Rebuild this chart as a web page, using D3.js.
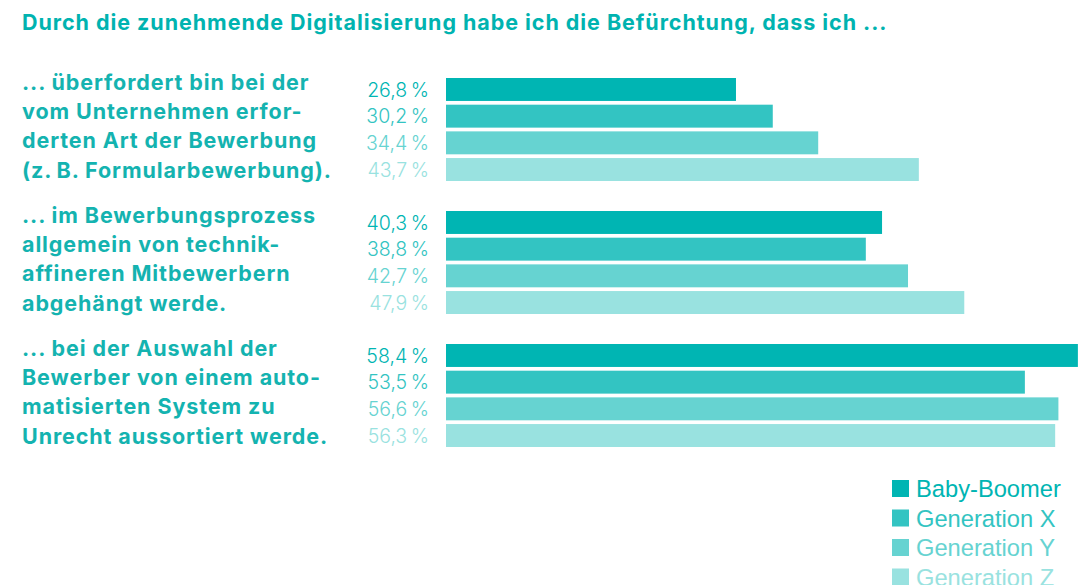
<!DOCTYPE html>
<html>
<head>
<meta charset="utf-8">
<style>
    body { margin: 0; background: white; font-family: "Liberation Sans", Arial, sans-serif; }
    svg { display: block; }
    .title { font-family: Inter, "Liberation Sans", sans-serif; font-weight: bold; font-size: 21.5px; letter-spacing: 0.95px; }
    .qlabel { font-family: Inter, "Liberation Sans", sans-serif; font-weight: bold; font-size: 21.5px; letter-spacing: 0.9px; }
    .value { font-family: Inter, "Liberation Sans", sans-serif; font-weight: 300; font-size: 19.5px; }
    .legend text { font-size: 23.7px; }
</style>
<script src="https://cdn.jsdelivr.net/npm/d3@7"></script>
</head>
<body>
<svg id="chart"></svg>
<script>
    const titleText = "Durch die zunehmende Digitalisierung habe ich die Befürchtung, dass ich ..."
    const questions = ["q1", "q2", "q3"]
    const questionLines = [
        ["... überfordert bin bei der", "vom Unternehmen erfor-", "derten Art der Bewerbung", "(z.\u2009B. Formularbewerbung)."],
        ["... im Bewerbungsprozess", "allgemein von technik-", "affineren Mitbewerbern", "abgehängt werde."],
        ["... bei der Auswahl der", "Bewerber von einem auto-", "matisierten System zu", "Unrecht aussortiert werde."]
    ]
    const generations = ["Baby-Boomer", "Generation X", "Generation Y", "Generation Z"]
    const colors = ["#00b5b3", "#33c4c2", "#66d3d1", "#99e2e0"]
    const babyBoomer = [26.8, 40.3, 58.4]
    const genX = [30.2, 38.8, 53.5]
    const genY = [34.4, 42.7, 56.6]
    const genZ = [43.7, 47.9, 56.3]
    const seriesValues = [babyBoomer, genX, genY, genZ]

    let width = 1080, height = 585
    let svg = d3.select("#chart").attr("width", width).attr("height", height)

    svg.append("text")
        .attr("class", "title")
        .attr("x", 22).attr("y", 30)
        .attr("fill", "#00b3b0")
        .text(titleText)

    let y0 = d3.scaleBand()
        .domain(questions)
        .range([78, 447])
        .paddingInner(30 / 133)
        .paddingOuter(0)

    let y1 = d3.scaleBand()
        .domain(generations)
        .range([0, y0.bandwidth()])
        .paddingInner(0.14)
        .paddingOuter(0)

    let x = d3.scaleLinear()
        .domain([0, 60])
        .range([446, 446 + 60 * 10.82])

    let groups = svg.selectAll("g.group")
        .data(questions)
        .enter().append("g")
        .attr("class", "group")
        .attr("transform", d => `translate(0, ${y0(d)})`)

    // question text, 4 lines per group
    groups.append("text")
        .attr("class", "qlabel")
        .attr("fill", "#14b3b0")
        .selectAll("tspan")
        .data((d, i) => questionLines[i])
        .enter().append("tspan")
        .attr("x", 22)
        .attr("y", (d, i) => 12 + i * 29.2)
        .text(d => d)

    groups.each(function(q, qi) {
        let g = d3.select(this)
        let rows = generations.map((gen, si) => ({gen: gen, value: seriesValues[si][qi], color: colors[si]}))

        g.selectAll("rect")
            .data(rows)
            .enter().append("rect")
            .attr("x", x(0))
            .attr("y", d => y1(d.gen))
            .attr("width", d => x(d.value) - x(0))
            .attr("height", y1.bandwidth())
            .attr("fill", d => d.color)

        g.selectAll("text.value")
            .data(rows)
            .enter().append("text")
            .attr("class", "value")
            .attr("x", 429)
            .attr("y", d => y1(d.gen) + y1.bandwidth() / 2)
            .attr("dy", "0.36em")
            .attr("text-anchor", "end")
            .attr("fill", d => d.color)
            .text(d => d.value.toFixed(1).replace(".", ",") + "\u2009%")
    })

    // legend
    let legend = svg.append("g").attr("class", "legend")
        .selectAll("g")
        .data(generations)
        .enter().append("g")
        .attr("transform", (d, i) => `translate(892, ${480 + i * 29.5})`)

    legend.append("rect")
        .attr("width", 17).attr("height", 17)
        .attr("fill", (d, i) => colors[i])

    legend.append("text")
        .attr("x", 24).attr("y", 17)
        .attr("fill", (d, i) => colors[i])
        .text(d => d)
</script>
</body>
</html>
